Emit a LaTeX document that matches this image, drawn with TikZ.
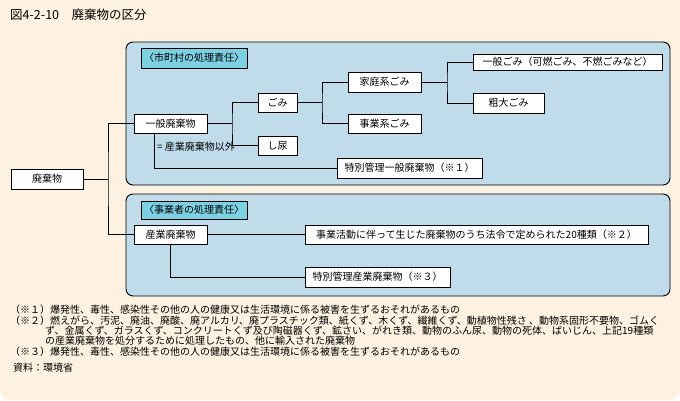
\documentclass[tikz,border=0pt]{standalone}
\usepackage{fontspec}
\setmainfont{Noto Sans CJK JP}
\definecolor{cream}{RGB}{253,242,225}
\definecolor{panelblue}{RGB}{192,220,235}
\definecolor{labelcyan}{RGB}{125,208,226}
\begin{document}
\begin{tikzpicture}[x=1pt,y=-1pt,
  wbox/.style={draw=black, fill=white, line width=0.9pt, inner sep=0pt, font=\fontsize{10}{12}\selectfont},
  lbox/.style={draw=black, fill=labelcyan, line width=0.9pt, inner sep=0pt, font=\fontsize{10}{12}\selectfont},
  panel/.style={draw=black, fill=panelblue, line width=0.9pt, rounded corners=7pt},
  conn/.style={draw=black, line width=0.9pt},
  note/.style={anchor=west, inner sep=0pt, font=\fontsize{10}{12}\selectfont}]
\useasboundingbox (0,0) rectangle (680,400);
\fill[white] (0,0) rectangle (680,400);
\fill[cream, rounded corners=10pt] (0,0) rectangle (680,400);
\fill[cream] (0,0) rectangle (680,30);
% title
\node[anchor=west, inner sep=0pt, font=\fontsize{12.5}{14}\selectfont] (title) at (10,15) {図4-2-10　廃棄物の区分};
% panels
\path[panel] (126,42) rectangle (670,185);
\path[panel] (126,194) rectangle (670,296);
\node[lbox, minimum width=106pt, minimum height=20pt] (lab1) at (194,58) {〈市町村の処理責任〉};
\node[lbox, minimum width=106pt, minimum height=18pt] (lab2) at (194,210) {〈事業者の処理責任〉};
% boxes
\node[wbox, minimum width=72pt, minimum height=20pt] (haiki) at (47,179) {廃棄物};
\node[wbox, minimum width=73pt, minimum height=19pt] (ippan) at (170.5,123.5) {一般廃棄物};
\node[wbox, minimum width=39pt, minimum height=19pt] (gomi) at (277.5,102.5) {ごみ};
\node[wbox, minimum width=39pt, minimum height=19pt] (shinyo) at (277.5,145.5) {し尿};
\node[wbox, minimum width=145pt, minimum height=20pt] (tok1) at (409.5,168) {特別管理一般廃棄物（※１）};
\node[wbox, minimum width=73pt, minimum height=20pt] (katei) at (384.5,82) {家庭系ごみ};
\node[wbox, minimum width=73pt, minimum height=19pt] (jigyo) at (384.5,123.5) {事業系ごみ};
\node[wbox, minimum width=189pt, minimum height=16pt] (ippangomi) at (567.5,62) {一般ごみ（可燃ごみ、不燃ごみなど）};
\node[wbox, minimum width=71pt, minimum height=20pt] (sodai) at (508.5,103) {粗大ごみ};
\node[wbox, minimum width=73pt, minimum height=19pt] (sangyo) at (170.5,234.5) {産業廃棄物};
\node[wbox, minimum width=343pt, minimum height=19pt] (jkatsu) at (476.5,234.5) {事業活動に伴って生じた廃棄物のうち法令で定められた20種類（※２）};
\node[wbox, minimum width=145pt, minimum height=20pt] (tok3) at (377.5,277) {特別管理産業廃棄物（※３）};
% junctions
\coordinate (j0) at (108,179);
\coordinate (j1) at (232,123.5);
\coordinate (j2) at (322,102.5);
\coordinate (j3) at (447,82);
% connectors
\draw[conn] (haiki.east) -- (j0);
\draw[conn] (ippan.west) -| (j0) |- (sangyo.west);
\draw[conn] (ippan.east) -- (j1);
\draw[conn] (gomi.west) -| (j1) |- (shinyo.west);
\draw[conn] ([xshift=-16.5pt]ippan.south) |- (tok1.west);
\draw[conn] (gomi.east) -- (j2);
\draw[conn] (katei.west) -| (j2) |- (jigyo.west);
\draw[conn] (katei.east) -- (j3);
\draw[conn] (ippangomi.west) -| (j3) |- (sodai.west);
\draw[conn] (sangyo.east) -- (jkatsu.west);
\draw[conn] (sangyo.south) |- (tok3.west);
\node[note] (igai) at (157,147) {= 産業廃棄物以外};
% notes
\node[note] (n1) at (10,310) {（※１）爆発性、毒性、感染性その他の人の健康又は生活環境に係る被害を生ずるおそれがあるもの};
\node[note] (n2) at (10,321) {（※２）燃えがら、汚泥、廃油、廃酸、廃アルカリ、廃プラスチック類、紙くず、木くず、繊維くず、動植物性残さ 、動物系固形不要物、ゴムく};
\node[note] (n3) at (45,331) {ず、金属くず、ガラスくず、コンクリートくず及び陶磁器くず、鉱さい、がれき類、動物のふん尿、動物の死体、ばいじん、上記19種類};
\node[note] (n4) at (45,341) {の産業廃棄物を処分するために処理したもの、他に輸入された廃棄物};
\node[note] (n5) at (10,352) {（※３）爆発性、毒性、感染性その他の人の健康又は生活環境に係る被害を生ずるおそれがあるもの};
\node[note] (src) at (13,368) {資料：環境省};
\end{tikzpicture}
\end{document}
